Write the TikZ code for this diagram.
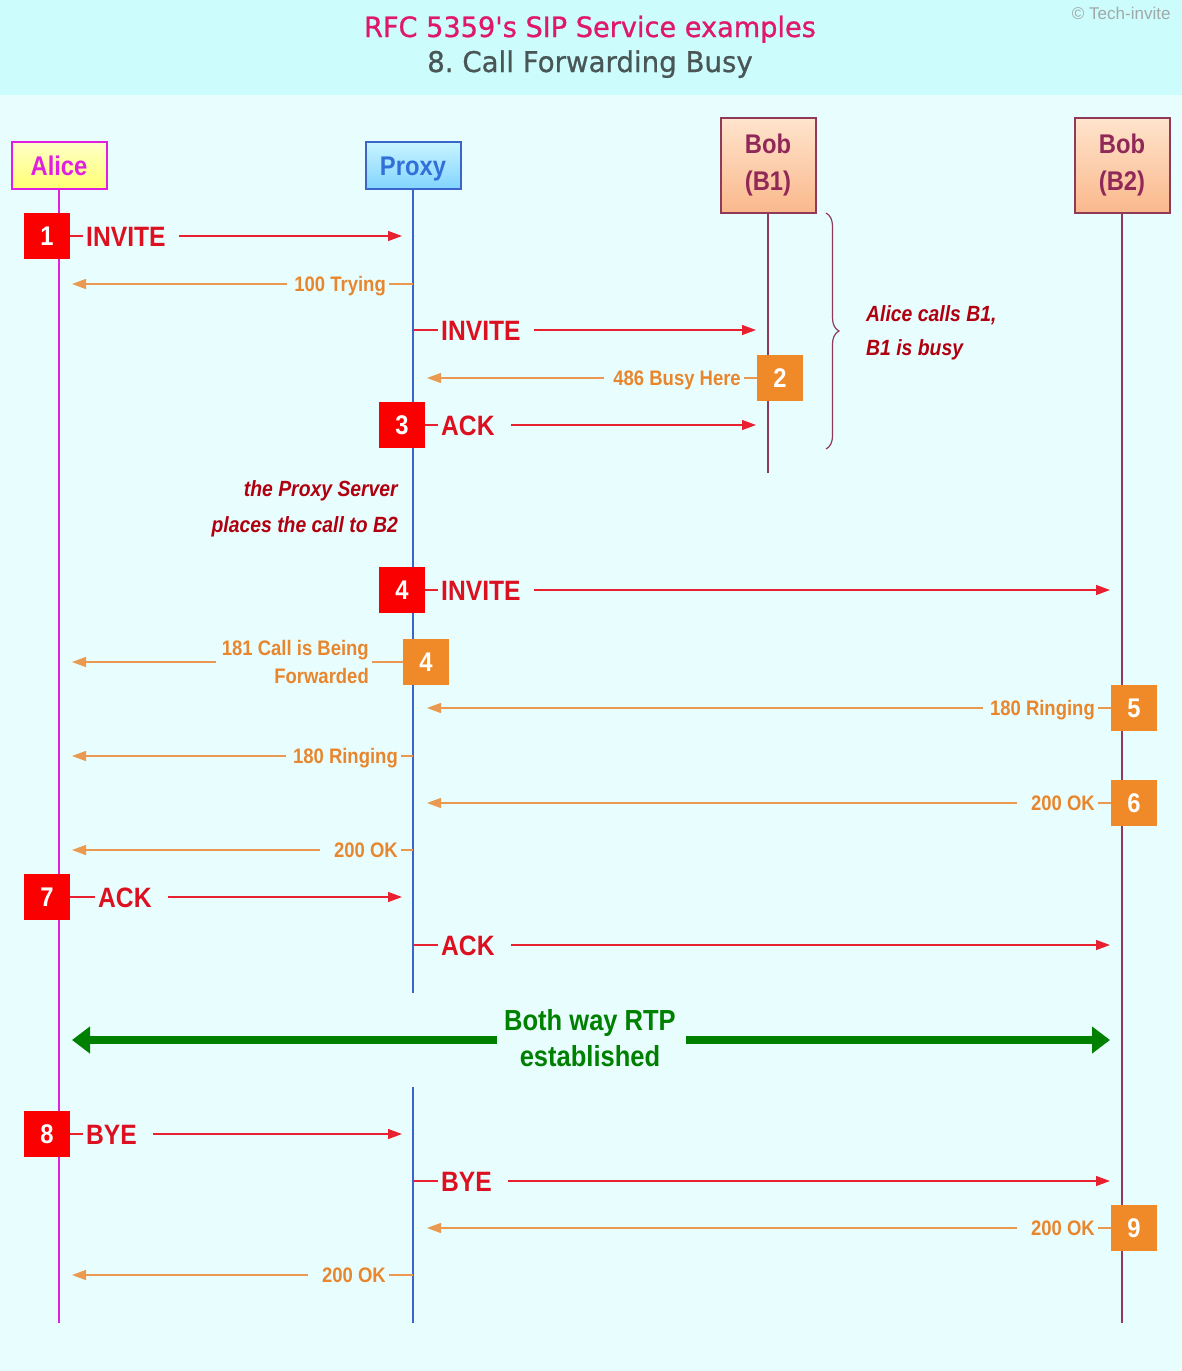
\documentclass[tikz,border=0pt]{standalone}
\usepackage{fontspec}
\usetikzlibrary{arrows.meta,decorations.pathreplacing}
\newfontfamily\nar[FakeStretch=0.88]{Liberation Sans}
\newfontfamily\plainsans{Liberation Sans}
\newfontfamily\ttlfont[FakeStretch=0.97,FakeBold=0.8]{DejaVu Sans}
\definecolor{hdr}{HTML}{CCFCFC}
\definecolor{bgc}{HTML}{E8FEFE}
\definecolor{boxred}{HTML}{FA0000}
\definecolor{txtred}{HTML}{DC1020}
\definecolor{lnred}{HTML}{E82030}
\definecolor{boxorg}{HTML}{F08A28}
\definecolor{txtorg}{HTML}{E8862E}
\definecolor{lnorg}{HTML}{EA9A50}
\definecolor{annred}{HTML}{B00010}
\definecolor{rtpgreen}{HTML}{008000}
\definecolor{alicec}{HTML}{E020E0}
\definecolor{proxyc}{HTML}{3A66CC}
\definecolor{proxytxt}{HTML}{3070D8}
\definecolor{bobc}{HTML}{8E3A58}
\definecolor{bobtxt}{HTML}{902858}
\definecolor{ttlred}{HTML}{E0186C}
\definecolor{ttlgray}{HTML}{4A5656}
\definecolor{copyc}{HTML}{A0A8A8}
\begin{document}
\begin{tikzpicture}[x=1pt,y=-1pt,
  numbox/.style={minimum width=46pt,minimum height=46pt,inner sep=0pt,text=white,
    font=\nar\bfseries\fontsize{27}{30}\selectfont},
  rbox/.style={numbox,fill=boxred},
  obox/.style={numbox,fill=boxorg},
  rlbl/.style={inner xsep=3pt,inner ysep=0pt,text=txtred,text height=20pt,text depth=0pt,
    font=\nar\bfseries\fontsize{28}{30}\selectfont},
  olbl/.style={inner xsep=3pt,inner ysep=0pt,text=txtorg,text height=15pt,text depth=0pt,
    font=\nar\bfseries\fontsize{21}{28}\selectfont},
  olbltwo/.style={inner xsep=3pt,inner ysep=0pt,text=txtorg,align=right,
    font=\nar\bfseries\fontsize{21}{28}\selectfont},
  rln/.style={draw=lnred,line width=1.3pt},
  rarr/.style={rln,-{Triangle[length=14pt,width=10pt]}},
  oln/.style={draw=lnorg,line width=1.3pt},
  oarr/.style={oln,-{Triangle[length=14pt,width=10pt]}},
  pbox/.style={line width=2pt,minimum width=95pt,inner sep=0pt},
  ann/.style={inner sep=0pt,text=annred,font=\nar\bfseries\itshape\fontsize{22}{26}\selectfont},
  lifeA/.style={draw=alicec,line width=2pt},
  lifeP/.style={draw=proxyc,line width=2pt},
  lifeB/.style={draw=bobc,line width=2pt},
]
\useasboundingbox (0,0) rectangle (1182,1371);
\fill[bgc] (0,0) rectangle (1182,1371);
\fill[hdr] (0,0) rectangle (1182,95);

% title
\node[anchor=base,text=ttlred,font=\ttlfont\fontsize{28}{34}\selectfont] (title1) at (590,37) {RFC 5359's SIP Service examples};
\node[anchor=base,text=ttlgray,font=\ttlfont\fontsize{28.5}{34}\selectfont] (title2) at (590,72) {8.\ Call Forwarding Busy};
\node[anchor=east,text=copyc,font=\plainsans\fontsize{17}{19}\selectfont] (copy) at (1174,13) {© Tech-invite};

% participants
\node[pbox,draw=alicec,top color=yellow!22,bottom color=yellow!55,minimum height=47pt,
  text height=19.5pt,text depth=0pt,
  text=alicec,font=\nar\bfseries\fontsize{27}{30}\selectfont] (alice) at (59,165.5) {Alice};
\node[pbox,draw=proxyc,top color={rgb,255:red,200;green,244;blue,255},bottom color={rgb,255:red,130;green,212;blue,255},minimum height=47pt,
  text height=19.5pt,text depth=0pt,
  text=proxytxt,font=\nar\bfseries\fontsize{27}{30}\selectfont] (proxy) at (413,165.5) {Proxy};
\node[pbox,draw=bobc,top color={rgb,255:red,255;green,228;blue,204},bottom color={rgb,255:red,250;green,184;blue,140},minimum height=95pt,align=center,
  text=bobtxt,font=\nar\bfseries\fontsize{27}{37}\selectfont] (bob1) at (768,165.5) {Bob\\(B1)};
\node[pbox,draw=bobc,top color={rgb,255:red,255;green,228;blue,204},bottom color={rgb,255:red,250;green,184;blue,140},minimum height=95pt,align=center,
  text=bobtxt,font=\nar\bfseries\fontsize{27}{37}\selectfont] (bob2) at (1122,165.5) {Bob\\(B2)};

% lifelines
\coordinate (aliceEnd) at (59,1323);
\coordinate (pxA) at (413,993);
\coordinate (pxB) at (413,1087);
\coordinate (pxEnd) at (413,1323);
\coordinate (b1End) at (768,473);
\coordinate (b2End) at (1122,1323);
\draw[lifeA] (alice.south) -- (aliceEnd);
\draw[lifeP] (proxy.south) -- (pxA);
\draw[lifeP] (pxB) -- (pxEnd);
\draw[lifeB] (bob1.south) -- (b1End);
\draw[lifeB] (bob2.south) -- (b2End);

% 1 INVITE Alice -> Proxy
\node[rbox] (n1) at (47,236) {1};
\node[rlbl,anchor=west] (m1) at (83,236) {INVITE};
\coordinate (t1) at (402,236);
\draw[rln] (n1.east) -- (m1.west);
\draw[rarr] ([xshift=10pt]m1.east) -- (t1);

% 100 Trying
\coordinate (s2) at (413,284);
\node[olbl,anchor=east] (m2) at (389,284) {100 Trying};
\coordinate (t2) at (72,284);
\draw[oln] (s2) -- (m2.east);
\draw[oarr] ([xshift=-4pt]m2.west) -- (t2);

% INVITE Proxy -> B1
\coordinate (s3) at (413,330);
\node[rlbl,anchor=west] (m3) at (438,330) {INVITE};
\coordinate (t3) at (756,330);
\draw[rln] (s3) -- (m3.west);
\draw[rarr] ([xshift=10pt]m3.east) -- (t3);

% 2 486 Busy Here
\node[obox] (n2) at (780,378) {2};
\node[olbl,anchor=east] (m4) at (744,378) {486 Busy Here};
\coordinate (t4) at (427,378);
\draw[oln] (n2.west) -- (m4.east);
\draw[oarr] ([xshift=-6pt]m4.west) -- (t4);

% 3 ACK
\node[rbox] (n3) at (402,425) {3};
\node[rlbl,anchor=west] (m5) at (438,425) {ACK};
\coordinate (t5) at (756,425);
\draw[rln] (n3.east) -- (m5.west);
\draw[rarr] ([xshift=13pt]m5.east) -- (t5);

% brace
\coordinate (br1) at (826,213);
\coordinate (br2) at (826,449);
\draw[draw=bobc,line width=1.2pt,decorate,decoration={brace,amplitude=13pt}] (br1) -- (br2);
\node[ann,anchor=west] (a1) at (866,315) {Alice calls B1,};
\node[ann,anchor=west] (a2) at (866,350) {B1 is busy};

\node[ann,anchor=east] (a3) at (398,491) {the Proxy Server};
\node[ann,anchor=east] (a4) at (398,527) {places the call to B2};

% 4 INVITE Proxy -> B2
\node[rbox] (n4) at (402,590) {4};
\node[rlbl,anchor=west] (m6) at (438,590) {INVITE};
\coordinate (t6) at (1110,590);
\draw[rln] (n4.east) -- (m6.west);
\draw[rarr] ([xshift=10pt]m6.east) -- (t6);

% 4 181
\node[obox] (n4b) at (426,662) {4};
\node[olbltwo,anchor=east] (m7) at (372,662) {181 Call is Being\\Forwarded};
\coordinate (t7) at (72,662);
\draw[oln] (n4b.west) -- (m7.east);
\draw[oarr] ([xshift=-3pt]m7.west) -- (t7);

% 5 180 Ringing
\node[obox] (n5) at (1134,708) {5};
\node[olbl,anchor=east] (m8) at (1098,708) {180 Ringing};
\coordinate (t8) at (427,708);
\draw[oln] (n5.west) -- (m8.east);
\draw[oarr] ([xshift=-4pt]m8.west) -- (t8);

% 180 Ringing proxy -> alice
\coordinate (s9) at (413,756);
\node[olbl,anchor=east] (m9) at (401,756) {180 Ringing};
\coordinate (t9) at (72,756);
\draw[oln] (s9) -- (m9.east);
\draw[oarr] ([xshift=-4pt]m9.west) -- (t9);

% 6 200 OK
\node[obox] (n6) at (1134,803) {6};
\node[olbl,anchor=east] (m10) at (1098,803) {200 OK};
\coordinate (t10) at (427,803);
\draw[oln] (n6.west) -- (m10.east);
\draw[oarr] ([xshift=-11pt]m10.west) -- (t10);

% 200 OK proxy -> alice
\coordinate (s11) at (413,850);
\node[olbl,anchor=east] (m11) at (401,850) {200 OK};
\coordinate (t11) at (72,850);
\draw[oln] (s11) -- (m11.east);
\draw[oarr] ([xshift=-11pt]m11.west) -- (t11);

% 7 ACK
\node[rbox] (n7) at (47,897) {7};
\node[rlbl,anchor=west] (m12) at (95,897) {ACK};
\coordinate (t12) at (402,897);
\draw[rln] (n7.east) -- (m12.west);
\draw[rarr] ([xshift=13pt]m12.east) -- (t12);

% ACK proxy -> B2
\coordinate (s13) at (413,945);
\node[rlbl,anchor=west] (m13) at (438,945) {ACK};
\coordinate (t13) at (1110,945);
\draw[rln] (s13) -- (m13.west);
\draw[rarr] ([xshift=13pt]m13.east) -- (t13);

% RTP
\node[align=center,text=rtpgreen,font=\nar\bfseries\fontsize{29}{36}\selectfont] (rtp) at (590,1038) {Both way RTP\\established};
\coordinate (rl) at (497,1040);
\coordinate (rr) at (686,1040);
\coordinate (al) at (72,1040);
\coordinate (ar) at (1110,1040);
\draw[draw=rtpgreen,line width=8pt,-{Triangle[length=18pt,width=26pt]}] (rl) -- (al);
\draw[draw=rtpgreen,line width=8pt,-{Triangle[length=18pt,width=26pt]}] (rr) -- (ar);

% 8 BYE
\node[rbox] (n8) at (47,1134) {8};
\node[rlbl,anchor=west] (m15) at (83,1134) {BYE};
\coordinate (t15) at (402,1134);
\draw[rln] (n8.east) -- (m15.west);
\draw[rarr] ([xshift=13pt]m15.east) -- (t15);

% BYE proxy -> B2
\coordinate (s16) at (413,1181);
\node[rlbl,anchor=west] (m16) at (438,1181) {BYE};
\coordinate (t16) at (1110,1181);
\draw[rln] (s16) -- (m16.west);
\draw[rarr] ([xshift=13pt]m16.east) -- (t16);

% 9 200 OK
\node[obox] (n9) at (1134,1228) {9};
\node[olbl,anchor=east] (m17) at (1098,1228) {200 OK};
\coordinate (t17) at (427,1228);
\draw[oln] (n9.west) -- (m17.east);
\draw[oarr] ([xshift=-11pt]m17.west) -- (t17);

% 200 OK proxy -> alice
\coordinate (s18) at (413,1275);
\node[olbl,anchor=east] (m18) at (389,1275) {200 OK};
\coordinate (t18) at (72,1275);
\draw[oln] (s18) -- (m18.east);
\draw[oarr] ([xshift=-11pt]m18.west) -- (t18);
\end{tikzpicture}
\end{document}
